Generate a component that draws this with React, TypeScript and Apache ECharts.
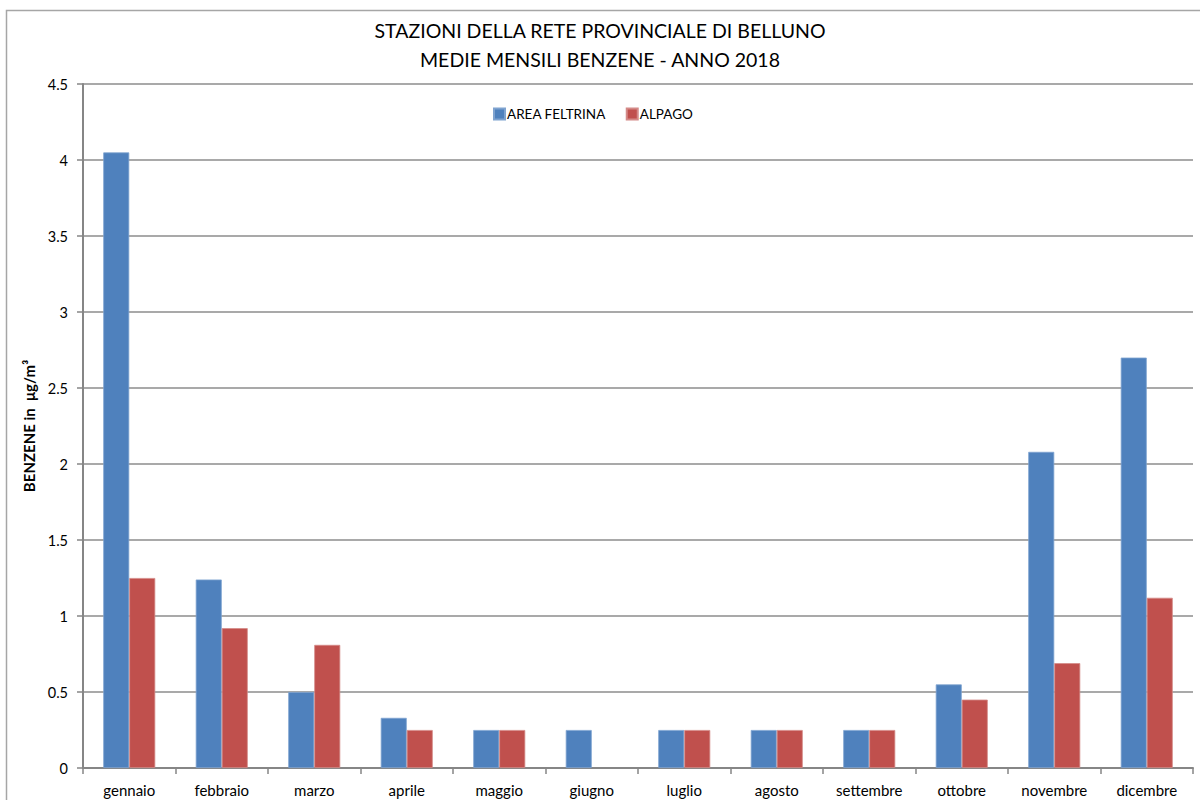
import React, { useEffect, useRef } from "react";
import * as echarts from "echarts";

const titleLines = ["STAZIONI DELLA RETE PROVINCIALE DI BELLUNO", "MEDIE MENSILI BENZENE - ANNO 2018"];
const months = ["gennaio", "febbraio", "marzo", "aprile", "maggio", "giugno", "luglio", "agosto", "settembre", "ottobre", "novembre", "dicembre"];
const areaFeltrina = [4.05, 1.24, 0.5, 0.33, 0.25, 0.25, 0.25, 0.25, 0.25, 0.55, 2.08, 2.7];
const alpago: (number | null)[] = [1.25, 0.92, 0.81, 0.25, 0.25, null, 0.25, 0.25, 0.25, 0.45, 0.69, 1.12];
const seriesNames = ["AREA FELTRINA", "ALPAGO"];
const yAxisName = "BENZENE in  μg/m³";

const FONT = "Lato, 'Open Sans', 'Liberation Sans', sans-serif";

export default function App() {
  const ref = useRef<HTMLDivElement>(null);
  useEffect(() => {
    document.body.style.margin = "0";
    const chart = echarts.init(ref.current!, null, { renderer: "svg" });
    chart.setOption({
      animation: false,
      backgroundColor: "#ffffff",
      textStyle: { fontFamily: FONT },
      title: {
        text: titleLines.join("\n"),
        left: "center",
        top: 11,
        textStyle: { fontFamily: FONT, fontSize: 19.5, fontWeight: "normal", color: "#000", lineHeight: 29 },
      },
      legend: {
        top: 102,
        left: 488,
        itemWidth: 11,
        itemHeight: 11,
        itemGap: 20,
        icon: "rect",
        textStyle: { fontFamily: FONT, fontSize: 13.5, color: "#000", padding: [0, 0, 0, -3] },
        data: seriesNames,
      },
      grid: { left: 83, top: 84, right: 7, bottom: 32, containLabel: false },
      xAxis: {
        type: "category",
        data: months,
        axisLine: { lineStyle: { color: "#868686", width: 2 } },
        axisTick: { show: true, length: 6, alignWithLabel: false, lineStyle: { color: "#868686", width: 1.5 } },
        axisLabel: { color: "#000", fontSize: 15, margin: 14, fontFamily: FONT, interval: 0 },
      },
      yAxis: {
        type: "value",
        min: 0,
        max: 4.5,
        interval: 0.5,
        name: yAxisName,
        nameLocation: "middle",
        nameGap: 47,
        nameRotate: 90,
        nameTextStyle: { fontFamily: FONT, fontSize: 15, fontWeight: "bold", color: "#000" },
        axisLine: { show: true, lineStyle: { color: "#868686", width: 2 } },
        axisTick: { show: true, length: 6, lineStyle: { color: "#868686", width: 1.5 } },
        axisLabel: { color: "#000", fontSize: 14.5, margin: 15, fontFamily: FONT },
        splitLine: { show: true, lineStyle: { color: "#8c8c8c", width: 1.5 } },
      },
      graphic: [
        {
          type: "rect",
          shape: { x: 6.5, y: 10.5, width: 1300, height: 900 },
          style: { fill: "none", stroke: "#a6a6a6", lineWidth: 1.5 },
          silent: true,
          z: -1,
        },
      ],
      series: [
        {
          name: seriesNames[0],
          type: "bar",
          data: areaFeltrina,
          barWidth: 26,
          barGap: "0%",
          itemStyle: { color: "#4F81BD", borderColor: "#7fa3d0", borderWidth: 0.8 },
        },
        {
          name: seriesNames[1],
          type: "bar",
          data: alpago.map((v) => (v === null ? "-" : v)),
          barWidth: 26,
          barGap: "0%",
          itemStyle: { color: "#C0504D", borderColor: "#d48a88", borderWidth: 0.8 },
        },
      ],
    });
    return () => chart.dispose();
  }, []);
  return <div ref={ref} style={{ width: 1200, height: 800 }} />;
}
